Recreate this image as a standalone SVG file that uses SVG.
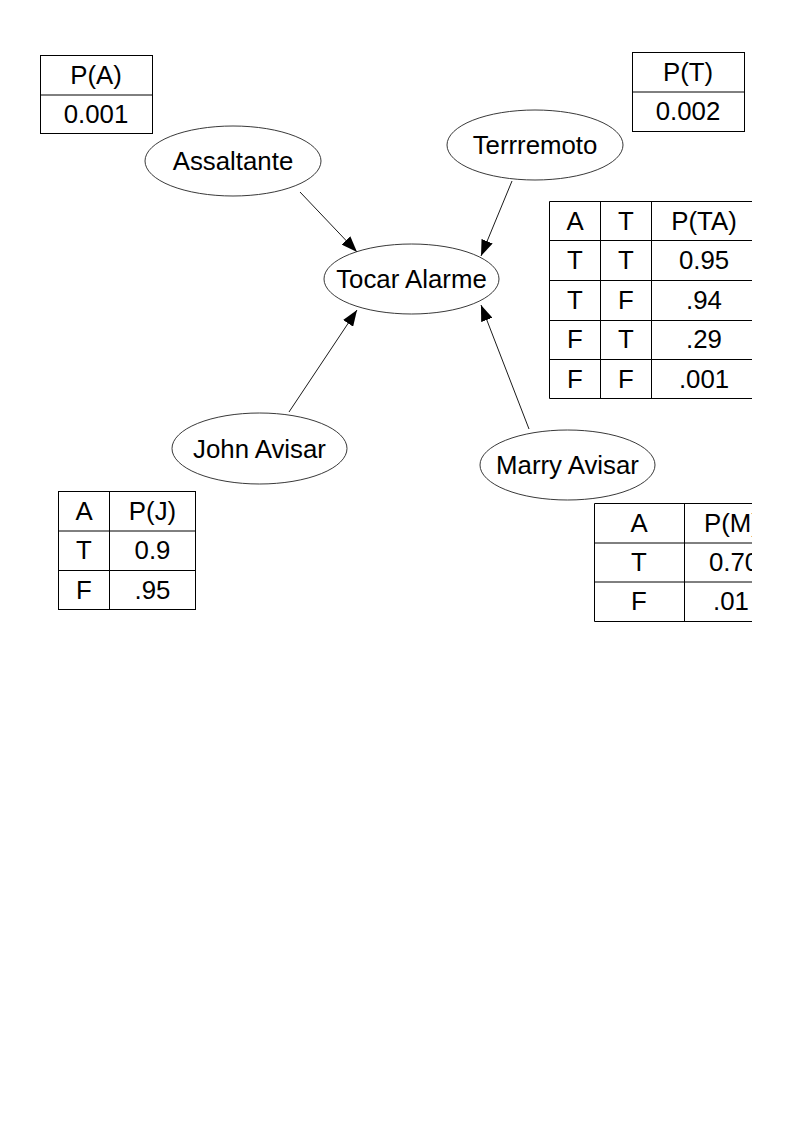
<svg xmlns="http://www.w3.org/2000/svg" width="794" height="1123" viewBox="0 0 794 1123">
<style>
text{font-family:"Liberation Sans",Arial,sans-serif;font-size:25.8px;fill:#000;text-anchor:middle}
.n ellipse{fill:#fff;stroke:#222;stroke-width:0.9}
.t line,.t rect{stroke:#000;stroke-width:1;fill:none}
.c line{stroke:#000;stroke-width:0.9}
</style>
<defs>
<marker id="ah" viewBox="0 0 16 12" refX="16" refY="6" markerWidth="16" markerHeight="12" markerUnits="userSpaceOnUse" orient="auto">
<path d="M0,0 L16,6 L0,12 z" fill="#000"/>
</marker>
<clipPath id="clip"><rect x="0" y="0" width="752" height="1123"/></clipPath>
</defs>
<rect width="794" height="1123" fill="#fff"/>
<g id="connectors" class="c">
<line x1="300" y1="192" x2="357" y2="252" marker-end="url(#ah)"/>
<line x1="512" y1="181" x2="481" y2="256" marker-end="url(#ah)"/>
<line x1="289" y1="412" x2="357" y2="310" marker-end="url(#ah)"/>
<line x1="529" y1="429" x2="481" y2="305" marker-end="url(#ah)"/>
</g>
<g id="assaltante" class="n"><ellipse cx="233" cy="161" rx="88" ry="35"/><text x="233" y="170">Assaltante</text></g>
<g id="terremoto" class="n"><ellipse cx="535" cy="145" rx="88" ry="35"/><text x="535" y="154">Terrremoto</text></g>
<g id="tocar_alarme" class="n"><ellipse cx="411.5" cy="279" rx="87.5" ry="35"/><text x="411.5" y="288">Tocar Alarme</text></g>
<g id="john_avisar" class="n"><ellipse cx="259.5" cy="448.5" rx="87.5" ry="35.5"/><text x="259.5" y="457.5">John Avisar</text></g>
<g id="marry_avisar" class="n"><ellipse cx="567.5" cy="465" rx="87.5" ry="35"/><text x="567.5" y="474">Marry Avisar</text></g>
<g id="table_pa" class="t">
<rect x="40.5" y="55.5" width="112" height="78"/><line x1="40.5" y1="95" x2="152.5" y2="95"/>
<text x="96" y="84">P(A)</text><text x="96" y="123">0.001</text>
</g>
<g id="table_pt" class="t">
<rect x="632.5" y="52.5" width="112" height="79"/><line x1="632.5" y1="92" x2="744.5" y2="92"/>
<text x="688" y="81">P(T)</text><text x="688" y="120">0.002</text>
</g>
<g id="table_pta" class="t" clip-path="url(#clip)">
<line x1="549.5" y1="201.5" x2="760" y2="201.5"/>
<line x1="549.5" y1="240.5" x2="760" y2="240.5"/>
<line x1="549.5" y1="280.5" x2="760" y2="280.5"/>
<line x1="549.5" y1="320.5" x2="760" y2="320.5"/>
<line x1="549.5" y1="359.5" x2="760" y2="359.5"/>
<line x1="549.5" y1="398.5" x2="760" y2="398.5"/>
<line x1="549.5" y1="201.5" x2="549.5" y2="398.5"/>
<line x1="600.5" y1="201.5" x2="600.5" y2="398.5"/>
<line x1="651.5" y1="201.5" x2="651.5" y2="398.5"/>
<text x="575" y="230">A</text><text x="626" y="230">T</text><text x="704" y="230">P(TA)</text>
<text x="575" y="269">T</text><text x="626" y="269">T</text><text x="704" y="269">0.95</text>
<text x="575" y="309">T</text><text x="626" y="309">F</text><text x="704" y="309">.94</text>
<text x="575" y="348">F</text><text x="626" y="348">T</text><text x="704" y="348">.29</text>
<text x="575" y="388">F</text><text x="626" y="388">F</text><text x="704" y="388">.001</text>
</g>
<g id="table_pj" class="t">
<rect x="58.5" y="491.5" width="137" height="118"/>
<line x1="58.5" y1="531" x2="195.5" y2="531"/>
<line x1="58.5" y1="570.5" x2="195.5" y2="570.5"/>
<line x1="109.5" y1="491.5" x2="109.5" y2="609.5"/>
<text x="84" y="520">A</text><text x="152.5" y="520">P(J)</text>
<text x="84" y="559">T</text><text x="152.5" y="559">0.9</text>
<text x="84" y="599">F</text><text x="152.5" y="599">.95</text>
</g>
<g id="table_pm" class="t" clip-path="url(#clip)">
<line x1="594.5" y1="503.5" x2="780" y2="503.5"/>
<line x1="594.5" y1="543" x2="780" y2="543"/>
<line x1="594.5" y1="582" x2="780" y2="582"/>
<line x1="594.5" y1="621.5" x2="780" y2="621.5"/>
<line x1="594.5" y1="503.5" x2="594.5" y2="621.5"/>
<line x1="684.5" y1="503.5" x2="684.5" y2="621.5"/>
<text x="639" y="532">A</text><text x="732" y="532">P(M)</text>
<text x="639" y="571">T</text><text x="734" y="571">0.70</text>
<text x="639" y="610">F</text><text x="731" y="610">.01</text>
</g>
</svg>
